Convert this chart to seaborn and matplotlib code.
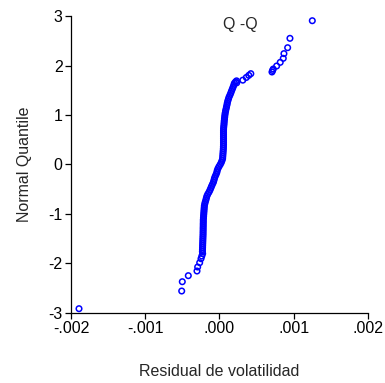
import matplotlib
matplotlib.use("Agg")
import matplotlib.pyplot as plt
import seaborn as sns
import pandas as pd

# ---- data (residuals in units of 1e-3, normal quantiles) ----
band_q = [-1.76, -1.72, -1.68, -1.64, -1.60, -1.56, -1.52, -1.48, -1.44, -1.40,
          -1.36, -1.32, -1.28, -1.24, -1.20, -1.16, -1.12, -1.08, -1.04, -1.00,
          -0.96, -0.92, -0.88, -0.84, -0.80, -0.76, -0.72, -0.68, -0.64, -0.60,
          -0.56, -0.52, -0.48, -0.44, -0.40, -0.36, -0.32, -0.28, -0.24, -0.20,
          -0.16, -0.12, -0.08, -0.04, 0.00, 0.04, 0.08, 0.12, 0.16, 0.20,
          0.24, 0.28, 0.32, 0.36, 0.40, 0.44, 0.48, 0.52, 0.56, 0.60,
          0.64, 0.68, 0.72, 0.76, 0.80, 0.84, 0.88, 0.92, 0.96, 1.00,
          1.04, 1.08, 1.12, 1.16, 1.20, 1.24, 1.28, 1.32, 1.36, 1.40,
          1.44, 1.48, 1.52, 1.56, 1.60, 1.64]
band_r = [-0.230, -0.229, -0.228, -0.227, -0.226, -0.225, -0.224, -0.223, -0.222, -0.221,
          -0.221, -0.220, -0.220, -0.219, -0.219, -0.218, -0.218, -0.216, -0.214, -0.212,
          -0.210, -0.208, -0.206, -0.204, -0.199, -0.192, -0.184, -0.177, -0.170, -0.158,
          -0.142, -0.129, -0.118, -0.107, -0.095, -0.082, -0.075, -0.068, -0.058, -0.046,
          -0.036, -0.030, -0.020, -0.006, 0.010, 0.024, 0.034, 0.042, 0.044, 0.046,
          0.048, 0.050, 0.052, 0.053, 0.054, 0.054, 0.054, 0.054, 0.054, 0.054,
          0.054, 0.054, 0.055, 0.057, 0.060, 0.062, 0.064, 0.067, 0.070, 0.073,
          0.077, 0.082, 0.088, 0.094, 0.100, 0.105, 0.111, 0.120, 0.128, 0.140,
          0.151, 0.161, 0.172, 0.182, 0.192, 0.200]

tail_r = [-1.892, -0.509, -0.501, -0.420, -0.303, -0.294, -0.267, -0.249, -0.238, -0.227,
          0.215, 0.230, 0.232, 0.314, 0.361, 0.395, 0.422,
          0.707, 0.715, 0.724, 0.770, 0.818, 0.859, 0.868, 0.918, 0.949, 1.250]
tail_q = [-2.913, -2.556, -2.368, -2.246, -2.152, -2.071, -1.984, -1.903, -1.850, -1.800,
          1.668, 1.690, 1.650, 1.704, 1.758, 1.801, 1.835,
          1.869, 1.900, 1.929, 1.990, 2.064, 2.145, 2.240, 2.360, 2.549, 2.905]

x_ticks = [-0.002, -0.001, 0.0, 0.001, 0.002]
x_tick_labels = ["-.002", "-.001", ".000", ".001", ".002"]
y_ticks = [-3, -2, -1, 0, 1, 2, 3]
y_tick_labels = ["-3", "-2", "-1", "0", "1", "2", "3"]

df = pd.DataFrame({
    "resid": [r * 1e-3 for r in band_r + tail_r],
    "quant": band_q + tail_q,
})

sns.set_style("ticks")
plt.rcParams["font.family"] = ["Liberation Sans", "DejaVu Sans"]

fig = plt.figure(figsize=(3.85, 3.83), dpi=100)
ax = fig.add_axes([0.1844, 0.1828, 0.7714, 0.7754])

sns.scatterplot(data=df, x="resid", y="quant", ax=ax, marker="o", s=16,
                facecolors="none", edgecolor="#0000FF", linewidth=1.1,
                clip_on=False)

ax.set_xlim(-0.002, 0.002)
ax.set_ylim(-3, 3)
ax.set_xticks(x_ticks)
ax.set_xticklabels(x_tick_labels)
ax.set_yticks(y_ticks)
ax.set_yticklabels(y_tick_labels)
ax.tick_params(axis="both", direction="out", length=4, width=0.9,
               labelsize=11.5, colors="black", pad=2)
for s in ["top", "right"]:
    ax.spines[s].set_visible(False)
for s in ["left", "bottom"]:
    ax.spines[s].set_linewidth(0.9)
    ax.spines[s].set_color("black")

ax.set_xlabel("Residual de volatilidad", fontsize=11.5, labelpad=20)
ax.set_ylabel("Normal Quantile", fontsize=11.5, labelpad=12)
ax.text(0.569, 0.97, "Q -Q", transform=ax.transAxes, ha="center", va="center",
        fontsize=11.5)

fig.savefig("out.png", dpi=100)
